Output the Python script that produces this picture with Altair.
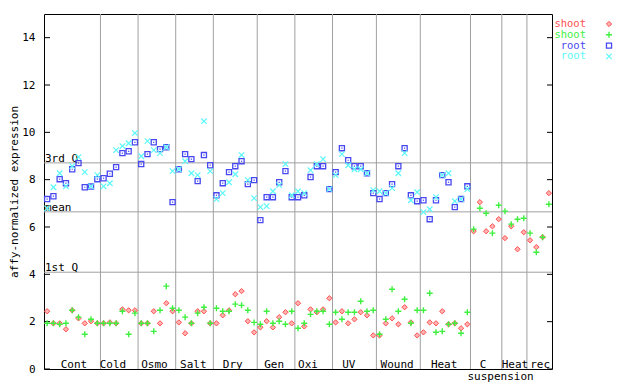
import altair as alt
import pandas as pd

# ---- data ----
groups = ["Cont", "Cold", "Osmo", "Salt", "Dry", "Gen", "Oxi", "UV", "Wound", "Heat", "C", "Heat", "rec"]
group_label_pos = [4.78, 11.0, 17.6, 23.8, 30.1, 36.7, 42.1, 48.6, 56.3, 63.8, 70.0, 75.1, 79.1]
sub_labels = ["suspension"]
sub_label_pos = [72.8]
boundaries = [9, 15, 21, 27, 34, 40, 46, 53, 60, 68, 73, 77]
n_samples = 81

stat_names = ["3rd Q", "mean", "1st Q"]
stat_values = [8.71, 6.64, 4.09]
y_ticks = [0, 2, 4, 6, 8, 10, 12, 14]

shoot1 = [2.44, 1.93, 1.93, 1.68, 2.48, 2.14, 1.93, 2.02, 1.93, 1.93,
          1.97, 1.93, 2.52, 2.48, 2.48, 1.93, 1.93, 2.44, 1.93, 2.78,
          2.44, 1.97, 1.51, 1.93, 2.44, 2.44, 1.93, 1.93, 2.27, 2.48,
          3.16, 3.29, 2.02, 1.55, 1.76, 2.02, 1.76, 2.19, 2.40, 1.93,
          2.78, 1.80, 2.52, 2.40, 2.52, 2.99, 1.97, 2.44, 1.93, 2.10,
          2.40, 2.27, 1.42, 1.42, 1.93, 2.14, 1.89, 2.61, 1.97, 1.42,
          1.55, 1.97, 1.93, 2.44, 1.89, 1.93, 1.72, 1.89,
          5.82, 7.05, 5.82, 6.03, 6.33, 5.53, 6.03, 5.06, 5.78, 5.44, 5.15, 5.57, 7.43]
shoot2 = [1.93, 1.93, 1.89, 1.93, 2.48, 2.19, 1.47, 2.10, 1.93, 1.93,
          1.93, 1.93, 2.44, 1.47, 2.36, 1.93, 1.93, 1.59, 2.48, 3.50,
          2.57, 2.48, 2.19, 1.93, 2.36, 2.61, 1.93, 2.57, 2.44, 2.44,
          2.74, 2.69, 2.48, 1.97, 1.89, 2.44, 1.93, 2.02, 1.89, 2.44,
          1.72, 1.93, 2.31, 2.44, 2.44, 1.89, 2.40, 2.10, 2.40, 2.40,
          2.86, 2.44, 2.48, 1.47, 2.10, 3.37, 2.44, 2.95, 1.93, 2.48,
          2.48, 3.20, 1.55, 1.59, 1.89, 1.93, 1.51, 2.40,
          5.91, 6.79, 6.58, 5.74, 6.92, 6.67, 6.12, 6.33, 6.37, 5.74, 4.93, 5.57, 6.96]
root1 = [7.18, 7.30, 8.02, 7.85, 8.44, 8.70, 7.68, 7.71, 8.02, 8.06,
         8.25, 8.53, 9.12, 9.20, 9.58, 8.66, 9.08, 9.58, 9.29, 9.37,
         7.05, 8.44, 9.08, 8.87, 7.94, 9.04, 8.61, 7.34, 7.85, 8.32,
         8.57, 8.78, 7.81, 7.98, 6.29, 7.26, 7.26, 7.89, 8.36, 7.26,
         7.26, 7.34, 8.11, 8.57, 8.57, 7.60, 8.32, 9.33, 8.82, 8.57,
         8.57, 8.27, 7.43, 7.18, 7.43, 7.81, 8.57, 9.33, 7.34, 7.09,
         7.13, 6.33, 7.13, 8.19, 7.89, 6.84, 7.18, 7.72]
root2 = [6.79, 7.68, 8.27, 7.72, 8.57, 8.95, 8.32, 7.72, 8.19, 7.72,
         7.85, 9.25, 9.42, 9.54, 9.97, 8.99, 9.63, 9.25, 9.12, 9.37,
         8.36, 8.44, 8.78, 8.27, 8.19, 10.47, 8.36, 7.18, 7.43, 7.89,
         8.23, 9.04, 7.98, 7.22, 6.84, 6.88, 7.51, 7.77, 8.66, 7.34,
         7.51, 7.43, 8.40, 8.66, 8.87, 7.60, 8.19, 9.08, 8.61, 8.44,
         8.44, 8.27, 7.56, 7.51, 7.43, 7.64, 8.27, 9.12, 7.13, 7.47,
         6.63, 6.75, 7.26, 8.19, 8.27, 7.09, 7.18, 7.60]

legend_labels = ["shoot", "shoot", "root", "root"]
colors = ["#ff5050", "#40f040", "#4848f0", "#5cf8f8"]

FONT = "DejaVu Sans Mono"
W, H = 508, 355

xscale = alt.Scale(domain=[0, n_samples], nice=False, zero=False)
yscale = alt.Scale(domain=[0, 15], nice=False, zero=False)
yaxis = alt.Axis(values=y_ticks, tickSize=0, labelPadding=9, domain=False, grid=False,
                 labelFont=FONT, labelFontSize=11, labelColor="black", labelOverlap=False,
                 title="affy-normalized expression", titleFont=FONT, titleFontSize=11,
                 titleFontWeight="normal", titleColor="black", titleX=-30, titleY=177.5,
                 titleAlign="center", titleBaseline="middle", titleAngle=270)


def X(field="x"):
    return alt.X(f"{field}:Q", scale=xscale, axis=None)


def Y(field="v"):
    return alt.Y(f"{field}:Q", scale=yscale, axis=yaxis)


def series_df(vals):
    return pd.DataFrame({"x": [i + 0.5 for i in range(len(vals))], "v": vals})


marker_specs = [
    dict(shape="diamond", size=28, filled=True, fill="#ffb0b0", strokeWidth=1),
    dict(shape="M-1,0L1,0M0,-1L0,1", size=36, filled=False, strokeWidth=1.4),
    dict(shape="square", size=26, filled=False, strokeWidth=1.3),
    dict(shape="M-1,-1L1,1M-1,1L1,-1", size=30, filled=False, strokeWidth=1.2),
]

layers = []

# group separators
layers.append(alt.Chart(pd.DataFrame({"x": boundaries})).mark_rule(color="#a0a0a0", strokeWidth=1)
              .encode(x=X()))
# statistic lines
stat_df = pd.DataFrame({"v": stat_values, "name": stat_names})
layers.append(alt.Chart(stat_df).mark_rule(color="#a0a0a0", strokeWidth=1).encode(y=Y()))
layers.append(alt.Chart(stat_df).mark_text(font=FONT, fontSize=11, align="left", baseline="alphabetic",
                                           dy=-1, color="black")
              .encode(x=alt.value(1), y=Y(), text="name:N"))
# inward ticks
tick_df = pd.DataFrame({"v": y_ticks})
layers.append(alt.Chart(tick_df).mark_rule(color="black").encode(y=Y(), x=alt.value(0), x2=alt.value(6)))
layers.append(alt.Chart(tick_df).mark_rule(color="black").encode(y=Y(), x=alt.value(W - 5), x2=alt.value(W)))

# series
for vals, col, spec in zip([shoot1, shoot2, root1, root2], colors, marker_specs):
    layers.append(alt.Chart(series_df(vals)).mark_point(stroke=col, opacity=1, **spec)
                  .encode(x=X(), y=Y()))
    if spec["shape"] == "square":
        layers.append(alt.Chart(series_df(vals)).mark_square(size=1.5, color=col, opacity=1)
                      .encode(x=X(), y=Y()))

# group labels
layers.append(alt.Chart(pd.DataFrame({"x": group_label_pos, "label": groups}))
              .mark_text(font=FONT, fontSize=11, align="center", baseline="alphabetic", color="black")
              .encode(x=X(), y=alt.value(H - 1.5), text="label:N"))
layers.append(alt.Chart(pd.DataFrame({"x": sub_label_pos, "label": sub_labels}))
              .mark_text(font=FONT, fontSize=11, align="center", baseline="alphabetic", color="black")
              .encode(x=X(), y=alt.value(H + 10.5), text="label:N"))

# legend (outside, top right)
one = pd.DataFrame({"a": [0]})
for k, (lab, col, spec) in enumerate(zip(legend_labels, colors, marker_specs)):
    yy = 10 + k * 10.8
    layers.append(alt.Chart(one).mark_text(text=lab, font=FONT, fontSize=10.5, align="right",
                                           baseline="middle", color=col)
                  .encode(x=alt.value(W + 34), y=alt.value(yy)))
    layers.append(alt.Chart(one).mark_point(stroke=col, opacity=1, **spec)
                  .encode(x=alt.value(W + 57), y=alt.value(yy)))

chart = alt.layer(*layers).properties(
    width=W, height=H,
    padding={"left": 36, "top": 6, "right": 80, "bottom": 14},
    autosize=alt.AutoSizeParams(type="none"),
    background="white",
).configure_view(stroke="black", strokeWidth=1)

chart.save("out.html", embed_options={"renderer": "svg", "actions": False})
